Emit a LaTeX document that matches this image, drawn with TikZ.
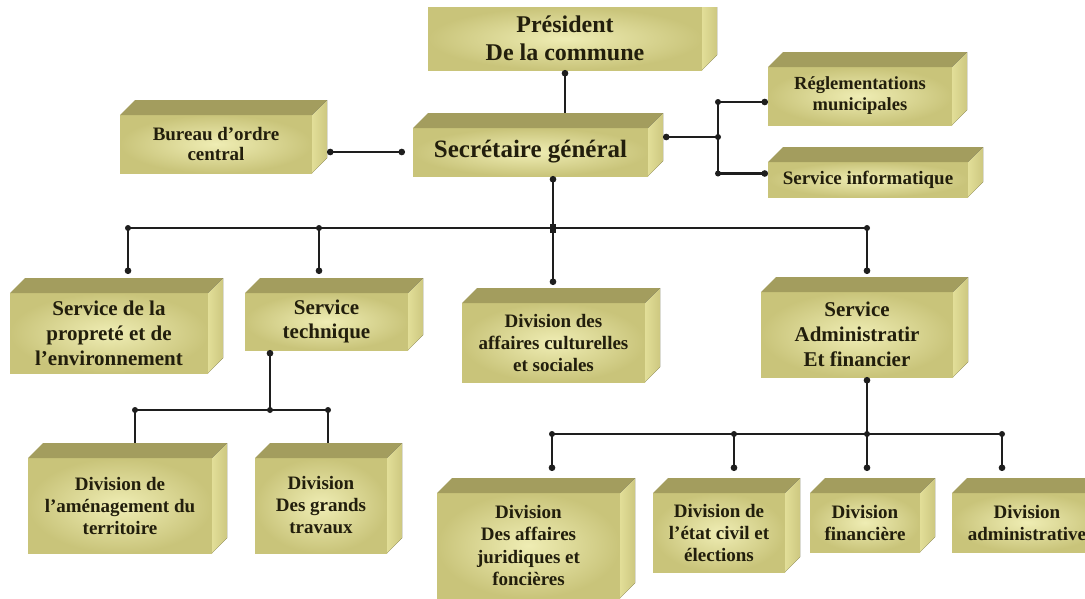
\documentclass[tikz,border=0pt]{standalone}
\usepackage{fontspec}
\setmainfont{Liberation Serif}
\usetikzlibrary{calc,arrows.meta}

\definecolor{facefront}{HTML}{C9C47A}
\definecolor{facefrontin}{HTML}{EFEDB4}
\definecolor{facetop}{HTML}{A39D5E}
\definecolor{faceside}{HTML}{E2DE98}
\definecolor{facesideout}{HTML}{CDC880}
\definecolor{inkcol}{HTML}{221E0C}
\definecolor{linecol}{HTML}{1E1E1E}

\tikzset{
  frontface/.style={inner color=facefrontin, outer color=facefront, draw=none,
    inner sep=0pt, outer sep=0pt, align=center, text=inkcol},
  topface/.style={fill=facetop},
  sideface/.style={left color=faceside, right color=facesideout},
  conn/.style={draw=linecol, line width=2.2pt},
  dottip/.tip={Circle[length=6.5pt,width=6.5pt]},
  dotstart/.style={{dottip}-},
  dotend/.style={-{dottip}},
  dotboth/.style={{dottip}-{dottip}},
}

% junction dot on a connector
\newcommand\jdot[1]{\fill[linecol] (#1) circle (3pt);}

% cuboid box: #1 name, #2 x1, #3 y1, #4 x2, #5 y2 (front face),
% #6 font size, #7 line pitch, #8 text
\newcommand\orgbox[8]{%
  \pgfmathsetmacro\obw{#4-#2}%
  \pgfmathsetmacro\obh{#5-#3}%
  \node[frontface, minimum width=\obw pt, minimum height=\obh pt,
        font=\bfseries\fontsize{#6}{#7}\selectfont]
        (#1) at ({(#2+#4)/2},{(#3+#5)/2}) {#8};
  \fill[topface] (#1.north west) -- ++(15,-15) -- ($(#1.north east)+(15,-15)$)
        -- (#1.north east) -- cycle;
  \fill[sideface] (#1.north east) -- ++(15,-15) -- ($(#1.south east)+(15,-15)$)
        -- (#1.south east) -- cycle;
  \coordinate (#1-back) at ($(#1.north)+(15,-15)$);
}

\begin{document}
\begin{tikzpicture}[x=1pt,y=-1pt]
\useasboundingbox (0,0) rectangle (1085,598);
\fill[white] (0,0) rectangle (1085,598);
\clip (0,0) rectangle (1085,598);

% head of the commune (its top face lies outside the sheet)
\node[frontface, minimum width=274pt, minimum height=63pt,
      font=\bfseries\fontsize{24}{28}\selectfont]
      (pres) at (565,38.5) {Président\\De la commune};
\fill[sideface] (pres.north east) -- ++(15,0) -- ($(pres.south east)+(15,-15)$)
      -- (pres.south east) -- cycle;

% first level
\orgbox{sec}{413}{128}{648}{176}{25}{28}{Secrétaire général}
\orgbox{bur}{120}{115}{312}{173}{19}{20}{Bureau d'ordre\\central}
\orgbox{reg}{768}{67}{952}{125}{18.5}{21}{Réglementations\\municipales}
\orgbox{info}{768}{162}{968}{197}{19}{21}{Service informatique}

% services and divisions under the secretary
\orgbox{prop}{10}{293}{208}{373}{21}{25}{Service de la\\propreté et de\\l'environnement}
\orgbox{tech}{245}{293}{408}{350}{21}{24}{Service\\technique}
\orgbox{cult}{462}{303}{645}{382}{19}{22}{Division des\\affaires culturelles\\et sociales}
\orgbox{adm}{761}{292}{953}{377}{21}{25}{Service\\Administratir\\Et financier}

% divisions of the technical service
\orgbox{amen}{28}{458}{212}{553}{19}{22}{Division de\\l'aménagement du\\territoire}
\orgbox{trav}{255}{458}{387}{553}{19}{22}{Division\\Des grands\\travaux}

% divisions of the administrative and financial service
\orgbox{jur}{437}{493}{620}{598}{19}{22.5}{Division\\Des affaires\\juridiques et\\foncières}
\orgbox{etat}{653}{493}{785}{572}{19}{22}{Division de\\l'état civil et\\élections}
\orgbox{fin}{810}{493}{920}{552}{19}{22}{Division\\financière}
\orgbox{admv}{952}{493}{1102}{552}{19}{22}{Division\\administrative}

% bus points
\coordinate (jL) at (128,228);
\coordinate (jT) at (319,228);
\coordinate (jS) at (553,228);
\coordinate (jA) at (867,228);
\coordinate (jR) at (718,137);
\coordinate (kM) at (270,410);
\coordinate (kL) at (135,410);
\coordinate (kR) at (328,410);
\coordinate (mJ) at (552,434);
\coordinate (mE) at (734,434);
\coordinate (mF) at (867,434);
\coordinate (mD) at (1002,434);

% president to secretary
\draw[conn,dotstart] (pres.south) -- (pres.south |- sec-back);

% bureau d'ordre
\draw[conn,dotboth] ($(bur.east |- sec.west)+(15,0)$) -- ($(sec.west)+(-8,0)$);

% secretary to the right-hand services
\draw[conn,dotstart] ($(sec.east)+(15,-15)$) -- (jR);
\draw[conn,dotend] (jR) |- ($(reg.west)+(0,6)$);
\draw[conn,dotend] (jR) |- ($(info.west)+(0,-6)$);
\jdot{jR}
\jdot{jR |- {$(reg.west)+(0,6)$}}
\jdot{jR |- {$(info.west)+(0,-6)$}}

% main bus
\draw[conn,dotstart] (jS |- sec.south) -- (jS);
\draw[conn] (jL) -- (jA);
\draw[conn,dotend] (jL) -- ($(jL |- prop-back)+(0,-4)$);
\draw[conn,dotend] (jT) -- ($(jT |- tech-back)+(0,-4)$);
\draw[conn,dotend] (jS) -- ($(jS |- cult-back)+(0,-3)$);
\draw[conn,dotend] (jA) -- ($(jA |- adm-back)+(0,-3)$);
\jdot{jL} \jdot{jT} \jdot{jA}
\fill[linecol] ($(jS)+(-3,-4.5)$) rectangle ($(jS)+(3,4.5)$);

% technical service bus
\draw[conn,dotstart] (kM |- tech.south) -- (kM);
\draw[conn] (kL) -- (kR);
\draw[conn] (kL) -- (kL |- amen-back);
\draw[conn] (kR) -- (kR |- trav-back);
\jdot{kL} \jdot{kM} \jdot{kR}

% administrative and financial service bus
\draw[conn,dotstart] (mF |- adm.south) -- (mF);
\draw[conn] (mJ) -- (mD);
\draw[conn,dotend] (mJ) -- ($(mJ |- jur-back)+(0,-7)$);
\draw[conn,dotend] (mE) -- ($(mE |- etat-back)+(0,-7)$);
\draw[conn,dotend] (mF) -- ($(mF |- fin-back)+(0,-7)$);
\draw[conn,dotend] (mD) -- ($(mD |- admv-back)+(0,-7)$);
\jdot{mJ} \jdot{mE} \jdot{mF} \jdot{mD}
\end{tikzpicture}
\end{document}
